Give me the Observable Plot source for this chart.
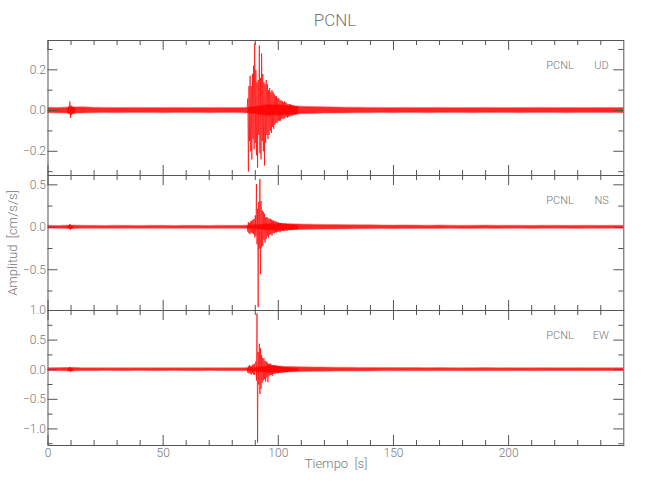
<!DOCTYPE html>
<html><head><meta charset="utf-8">
<script src="https://cdn.jsdelivr.net/npm/d3@7"></script>
<script src="https://cdn.jsdelivr.net/npm/@observablehq/plot@0.6"></script>
<style>
body{margin:0;background:#fff;}
#wrap{position:relative;width:650px;height:500px;font-family:"Liberation Sans Narrow","Roboto",sans-serif;font-weight:300;color:#777;}
.abs{position:absolute;white-space:pre;}
</style></head><body><div id="wrap"></div>
<script>
// ---- text ----
const title = "PCNL";
const station = "PCNL";
const xLabel = "Tiempo  [s]";
const yLabel = "Amplitud  [cm/s/s]";

// ---- x ticks ----
const xMajor = [0, 50, 100, 150, 200];
const xMinor = [10, 20, 30, 40, 60, 70, 80, 90, 110, 120, 130, 140, 160, 170, 180, 190, 210, 220, 230, 240];
const xDomain = [0, 250];
const sampleStep = 0.25; // s between read peaks

// ---- noise band sample times (s) ----
const bandTimes = [0,5,10,15,20,25,30,35,40,45,50,55,60,65,70,75,80,85,90,95,100,105,110,115,120,125,130,135,140,145,150,155,160,165,170,175,180,185,190,195,200,205,210,215,220,225,230,235,240,245,250];

// ---- UD ----
const udDomain = [-0.319, 0.344];
const udMajor = [-0.2, 0, 0.2];
const udMinor = [-0.3, -0.1, 0.1, 0.3];
const udHi = [.014,.013,.015,.016,.014,.013,.012,.013,.012,.012,.012,.013,.012,.012,.012,.013,.012,.013,.018,.026,.026,.022,.019,.017,.016,.015,.014,.014,.013,.013,.012,.013,.012,.012,.013,.012,.012,.012,.013,.012,.012,.012,.012,.013,.012,.012,.012,.012,.012,.013,.012];
const udLo = [-.013,-.014,-.015,-.015,-.013,-.012,-.013,-.012,-.012,-.012,-.013,-.012,-.012,-.012,-.013,-.012,-.012,-.013,-.018,-.026,-.024,-.021,-.018,-.017,-.015,-.015,-.014,-.013,-.013,-.012,-.013,-.012,-.012,-.013,-.012,-.012,-.012,-.013,-.012,-.012,-.012,-.013,-.012,-.012,-.012,-.013,-.012,-.012,-.012,-.012,-.013];
const udBurstStart = 8.5;
const udBurst = [0.012,-0.015,0.02,-0.018,0.044,-0.036,0.025,-0.022,0.02,-0.018,0.017,-0.015,0.015,-0.014];
const udEventStart = 86.5;
const udEvent = [0.02,0.06,-0.30,0.12,-0.15,0.17,-0.20,0.12,-0.24,0.18,
  -0.14,0.22,-0.19,0.33,-0.16,0.20,-0.22,0.14,-0.28,0.15,
  -0.12,0.32,-0.21,0.16,-0.24,0.28,-0.15,0.18,-0.20,0.14,
  -0.27,0.13,-0.16,0.15,-0.12,0.13,-0.14,0.10,-0.12,0.11,
  -0.10,0.09,-0.11,0.10,-0.08,0.09,-0.09,0.08,-0.07,0.07,
  -0.06,0.07,-0.06,0.06,-0.05,0.06,-0.05,0.05,-0.05,0.05,
  -0.04,0.045,-0.04,0.04,-0.04,0.045,-0.035,0.04,-0.03,0.035,
  -0.035,0.03,-0.03,0.032,-0.028,0.03,-0.025,0.028,-0.025,0.025,
  -0.022,0.024,-0.02,0.022,-0.02,0.02,-0.018,0.02,-0.018];

// ---- NS ----
const nsDomain = [-0.98, 0.61];
const nsMajor = [-0.5, 0, 0.5];
const nsMinor = [-0.75, -0.25, 0.25];
const nsHi = [.018,.016,.022,.018,.017,.016,.018,.017,.016,.018,.017,.016,.018,.017,.016,.018,.017,.018,.023,.036,.04,.036,.032,.03,.028,.026,.025,.024,.023,.022,.021,.022,.02,.019,.021,.019,.018,.019,.02,.018,.019,.018,.017,.019,.018,.017,.018,.019,.017,.018,.017];
const nsLo = [-.017,-.018,-.02,-.017,-.016,-.018,-.017,-.016,-.018,-.017,-.016,-.018,-.017,-.016,-.018,-.017,-.016,-.018,-.023,-.036,-.038,-.034,-.031,-.029,-.027,-.026,-.025,-.023,-.022,-.021,-.022,-.02,-.019,-.021,-.019,-.018,-.02,-.019,-.018,-.019,-.018,-.017,-.019,-.018,-.017,-.018,-.019,-.017,-.018,-.017,-.018];
const nsBurstStart = 8.5;
const nsBurst = [0.01,-0.012,0.018,-0.02,0.04,-0.03,0.022,-0.018,0.015,-0.012];
const nsEventStart = 86.5;
const nsEvent = [0.02,-0.05,0.06,-0.07,0.05,-0.08,0.07,-0.06,0.08,-0.07,
  0.09,-0.08,0.10,-0.12,0.14,-0.10,0.51,-0.20,0.22,-0.94,
  0.30,-0.25,0.57,-0.55,0.31,-0.24,0.20,-0.22,0.18,-0.15,
  0.16,-0.18,0.12,-0.14,0.12,-0.10,0.11,-0.12,0.10,-0.09,
  0.10,-0.08,0.09,-0.10,0.08,-0.07,0.08,-0.07,0.07,-0.06,
  0.07,-0.06,0.06,-0.055,0.06,-0.05,0.05,-0.06,0.05,-0.045,
  0.05,-0.04,0.045,-0.045,0.04,-0.04,0.045,-0.035,0.04,-0.04,
  0.035,-0.035,0.04,-0.03,0.035,-0.035,0.03,-0.03,0.032,-0.028,
  0.03,-0.03,0.028,-0.025,0.028,-0.025,0.025,-0.022,0.024];

// ---- EW ----
const ewDomain = [-1.28, 1.0];
const ewMajor = [-1, -0.5, 0, 0.5, 1];
const ewMinor = [-1.25, -0.75, -0.25, 0.25, 0.75];
const ewHi = [.025,.027,.032,.025,.024,.025,.023,.024,.025,.023,.024,.025,.023,.024,.025,.023,.024,.025,.032,.055,.055,.046,.041,.038,.036,.034,.032,.031,.03,.029,.028,.027,.028,.026,.027,.026,.025,.026,.027,.025,.026,.025,.024,.026,.025,.024,.026,.025,.024,.025,.024];
const ewLo = [-.024,-.025,-.029,-.024,-.025,-.023,-.024,-.025,-.023,-.024,-.025,-.023,-.024,-.025,-.023,-.024,-.025,-.024,-.032,-.055,-.053,-.044,-.04,-.036,-.034,-.032,-.031,-.03,-.029,-.028,-.027,-.028,-.026,-.027,-.026,-.025,-.026,-.027,-.025,-.026,-.025,-.024,-.026,-.025,-.024,-.025,-.026,-.024,-.025,-.024,-.025];
const ewBurstStart = 8.5;
const ewBurst = [0.015,-0.02,0.025,-0.022,0.045,-0.035,0.03,-0.025,0.02,-0.02];
const ewEventStart = 86.5;
const ewEvent = [0.02,-0.05,0.06,-0.06,0.08,-0.07,0.06,-0.08,0.07,-0.06,
  0.09,-0.08,0.10,-0.09,0.12,0.14,-0.18,0.95,-1.23,0.30,
  -0.25,0.44,-0.41,0.36,-0.32,0.25,-0.22,0.20,-0.18,0.19,
  -0.16,0.15,-0.20,0.14,-0.13,0.12,-0.21,0.10,-0.11,0.10,
  -0.09,0.10,-0.09,0.08,-0.10,0.08,-0.07,0.08,-0.07,0.07,
  -0.06,0.07,-0.06,0.06,-0.06,0.055,-0.05,0.06,-0.05,0.05,
  -0.05,0.045,-0.05,0.045,-0.04,0.04,-0.045,0.04,-0.04,0.035,
  -0.04,0.035,-0.035,0.035,-0.03,0.03,-0.035,0.03,-0.03,0.03,
  -0.028,0.028,-0.03,0.025,-0.025,0.025,-0.022,0.024,-0.022];

const panels = [
  {comp:"UD", domain:udDomain, major:udMajor, minor:udMinor, hi:udHi, lo:udLo, burstStart:udBurstStart, burst:udBurst, eventStart:udEventStart, event:udEvent, top:40},
  {comp:"NS", domain:nsDomain, major:nsMajor, minor:nsMinor, hi:nsHi, lo:nsLo, burstStart:nsBurstStart, burst:nsBurst, eventStart:nsEventStart, event:nsEvent, top:175},
  {comp:"EW", domain:ewDomain, major:ewMajor, minor:ewMinor, hi:ewHi, lo:ewLo, burstStart:ewBurstStart, burst:ewBurst, eventStart:ewEventStart, event:ewEvent, top:310}
];

// ---- layout ----
const W = 650, H = 135, ML = 47.5, MR = 26.7;
const FONT = '"Liberation Sans Narrow", "Roboto", sans-serif';
const TICK = "#555", RED = "#ff0000", TXT = "#777";
const wrap = document.getElementById("wrap");

function series(start, values, seg){ return values.map((v,i)=>({t: start + i*sampleStep, v, seg})); }

function panel(p, bottom){
  const band = bandTimes.map((t,i)=>({t, lo:p.lo[i], hi:p.hi[i]}));
  const ev = [...series(p.burstStart, p.burst, "a"), ...series(p.eventStart, p.event, "b")];
  const innerW = W - ML - MR;
  const mb = bottom ? 30 : 0;
  const marks = [
    Plot.areaY(band, {x:"t", y1:"lo", y2:"hi", fill:RED, fillOpacity:0.85, stroke:"#ff6666", strokeWidth:0.6, clip:true}),
    Plot.line(ev, {x:"t", y:"v", z:"seg", stroke:RED, strokeWidth:0.7, clip:true}),
    Plot.tickX(xMajor, {x:d=>d, insetBottom:H-10, stroke:TICK}),
    Plot.tickX(xMajor, {x:d=>d, insetTop:H-10, stroke:TICK}),
    Plot.tickX(xMinor, {x:d=>d, insetBottom:H-5, stroke:TICK}),
    Plot.tickX(xMinor, {x:d=>d, insetTop:H-5, stroke:TICK}),
    Plot.tickY(p.major, {y:d=>d, insetRight:innerW-10, stroke:TICK}),
    Plot.tickY(p.major, {y:d=>d, insetLeft:innerW-10, stroke:TICK}),
    Plot.tickY(p.minor, {y:d=>d, insetRight:innerW-5, stroke:TICK}),
    Plot.tickY(p.minor, {y:d=>d, insetLeft:innerW-5, stroke:TICK}),
    Plot.frame({stroke:TICK}),
    Plot.axisY(p.major, {anchor:"left", tickSize:0, tickPadding:2, tickFormat:d3.format(".1f"), label:null, fontSize:12, fill:TXT}),
    Plot.text([station], {frameAnchor:"top-right", dx:-50, dy:21, textAnchor:"end", fontSize:11, fill:TXT}),
    Plot.text([p.comp], {frameAnchor:"top-right", dx:-15, dy:21, textAnchor:"end", fontSize:11, fill:TXT})
  ];
  if (bottom) marks.push(Plot.axisX(xMajor, {anchor:"bottom", tickSize:0, tickPadding:3, label:null, fontSize:12, fill:TXT, tickFormat:d=>String(d)}));
  const svg = Plot.plot({
    width: W, height: H + mb,
    marginLeft: ML, marginRight: MR, marginTop: 0, marginBottom: mb,
    x: bottom ? {domain:xDomain} : {domain:xDomain, axis:null},
    y: {domain:p.domain},
    style: {fontFamily:FONT, fontWeight:300, color:TXT, background:"transparent", overflow:"visible"},
    marks
  });
  svg.style.position = "absolute";
  svg.style.left = "0px";
  svg.style.top = p.top + "px";
  return svg;
}

panels.forEach((p,i)=>wrap.appendChild(panel(p, i===panels.length-1)));

function addText(txt, css){
  const d = document.createElement("div");
  d.className = "abs";
  d.textContent = txt;
  Object.assign(d.style, css);
  wrap.appendChild(d);
}
addText(title, {left:"235px", width:"200px", top:"10px", textAlign:"center", fontSize:"17px", lineHeight:"20px"});
addText(xLabel, {left:"236px", width:"200px", top:"456px", textAlign:"center", fontSize:"13px", lineHeight:"16px"});
addText(yLabel, {left:"13px", top:"243px", fontSize:"13px", lineHeight:"16px", transform:"translate(-50%,-50%) rotate(-90deg)"});
</script></body></html>
